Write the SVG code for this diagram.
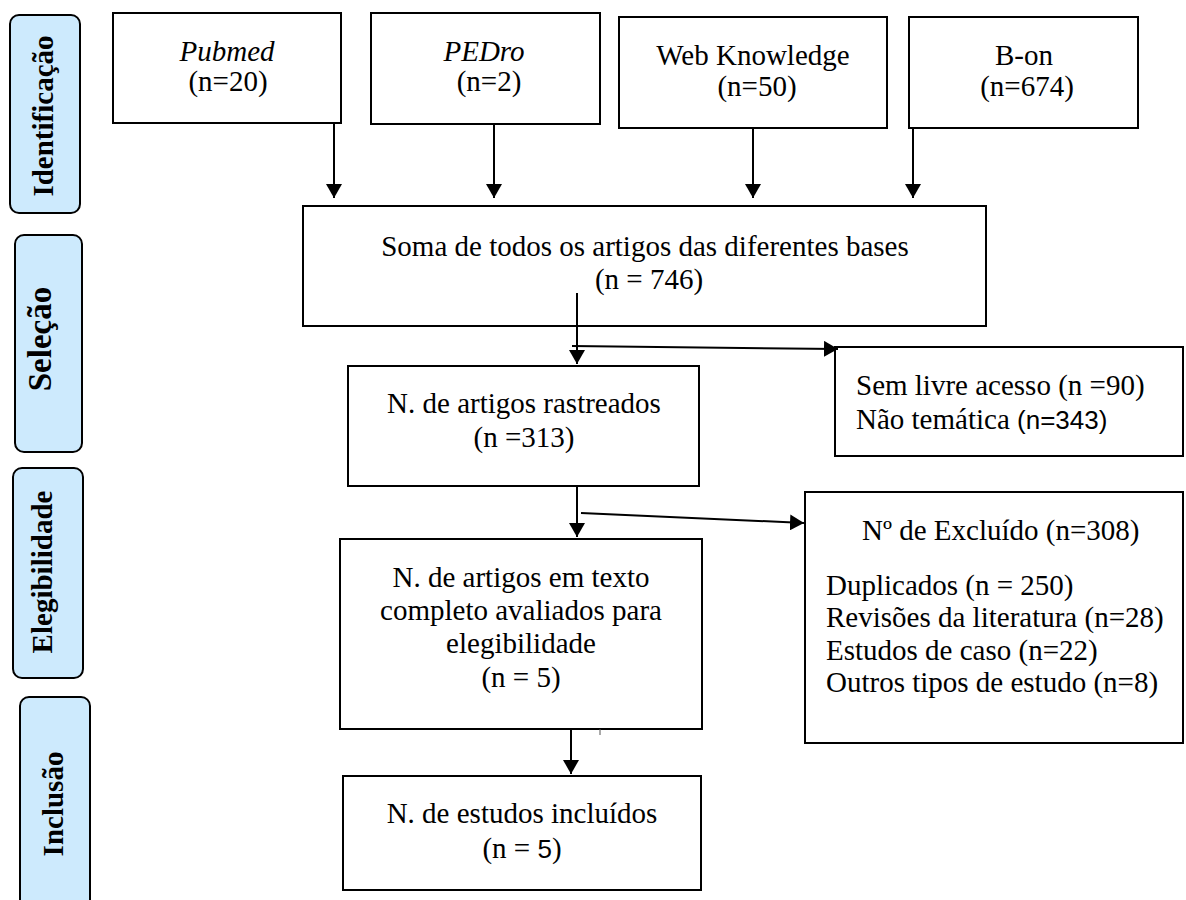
<svg xmlns="http://www.w3.org/2000/svg" width="1186" height="900" viewBox="0 0 1186 900">
<style>
  .box{fill:#ffffff;stroke:#000;stroke-width:2}
  .side{fill:#cdeafd;stroke:#000;stroke-width:2}
  .t{font-family:"Liberation Serif","Times New Roman",serif;font-size:29px;fill:#000}
  .c{text-anchor:middle}
  .i{font-style:italic}
  .sb{font-family:"Liberation Serif","Times New Roman",serif;font-size:29px;font-weight:bold;text-anchor:middle;fill:#000}
  .sans{font-family:"Liberation Sans",Arial,sans-serif;font-size:26px}
  .ln{stroke:#000;stroke-width:2;fill:none}
</style>
<defs>
  <marker id="ah" markerWidth="8" markerHeight="8" refX="7" refY="4" orient="auto" markerUnits="strokeWidth">
    <path d="M0,0 L7,4 L0,8 Z" fill="#000"/>
  </marker>
</defs>
<rect width="1186" height="900" fill="#ffffff"/>

<g id="lbl-identificacao">
  <rect class="side" x="10" y="15" width="70" height="198" rx="9"/>
  <text class="sb" transform="translate(53,116) rotate(-90)">Identificação</text>
</g>
<g id="lbl-selecao">
  <rect class="side" x="15" y="235" width="67" height="217" rx="9"/>
  <text class="sb" style="font-size:33px" transform="translate(51,339) rotate(-90)">Seleção</text>
</g>
<g id="lbl-elegibilidade">
  <rect class="side" x="13" y="468" width="70" height="210" rx="9"/>
  <text class="sb" transform="translate(52,572) rotate(-90)">Elegibilidade</text>
</g>
<g id="lbl-inclusao">
  <rect class="side" x="20" y="697" width="70" height="215" rx="9"/>
  <text class="sb" transform="translate(63,804) rotate(-90)">Inclusão</text>
</g>

<g id="pubmed">
  <rect class="box" x="113" y="13" width="228" height="110"/>
  <text class="t c i" x="227" y="61">Pubmed</text>
  <text class="t c" x="228" y="91">(n=20)</text>
</g>
<g id="pedro">
  <rect class="box" x="371" y="13" width="229" height="111"/>
  <text class="t c i" x="484" y="61">PEDro</text>
  <text class="t c" x="489" y="91">(n=2)</text>
</g>
<g id="webknowledge">
  <rect class="box" x="619" y="17" width="268" height="111"/>
  <text class="t c" x="753" y="65">Web Knowledge</text>
  <text class="t c" x="757" y="96">(n=50)</text>
</g>
<g id="bon">
  <rect class="box" x="909" y="17" width="229" height="111"/>
  <text class="t c" x="1024" y="65">B-on</text>
  <text class="t c" x="1027" y="96">(n=674)</text>
</g>

<g id="soma">
  <rect class="box" x="303" y="206" width="683" height="120"/>
  <text class="t c" x="645" y="256">Soma de todos os artigos das diferentes bases</text>
  <text class="t c" x="649" y="289">(n = 746)</text>
</g>
<g id="rastreados">
  <rect class="box" x="348" y="366" width="351" height="120"/>
  <text class="t c" x="524" y="413">N. de artigos rastreados</text>
  <text class="t c" x="524" y="447">(n =313)</text>
</g>
<g id="semlivre">
  <rect class="box" x="835" y="347" width="348" height="109"/>
  <text class="t" x="856" y="395">Sem livre acesso (n =90)</text>
  <text class="t" x="856" y="429">Não temática <tspan class="sans">(n=343)</tspan></text>
</g>
<g id="texto">
  <rect class="box" x="340" y="539" width="362" height="190"/>
  <text class="t c" x="521" y="587">N. de artigos em texto</text>
  <text class="t c" x="521" y="620">completo avaliados para</text>
  <text class="t c" x="521" y="653">elegibilidade</text>
  <text class="t c" x="521" y="687">(n = 5)</text>
</g>
<g id="excluidos">
  <rect class="box" x="805" y="492" width="378" height="251"/>
  <text class="t" x="862" y="540">Nº de Excluído (n=308)</text>
  <text class="t" x="826" y="595">Duplicados (n = 250)</text>
  <text class="t" x="826" y="627">Revisões da literatura (n=28)</text>
  <text class="t" x="826" y="660">Estudos de caso (n=22)</text>
  <text class="t" x="826" y="692">Outros tipos de estudo (n=8)</text>
</g>
<g id="incluidos">
  <rect class="box" x="343" y="776" width="358" height="114"/>
  <text class="t c" x="522" y="823">N. de estudos incluídos</text>
  <text class="t c" x="522" y="858">(n = <tspan class="sans">5</tspan>)</text>
</g>

<g id="connectors">
  <line class="ln" x1="334" y1="123" x2="334" y2="198" marker-end="url(#ah)"/>
  <line class="ln" x1="494" y1="124" x2="494" y2="198" marker-end="url(#ah)"/>
  <line class="ln" x1="753" y1="128" x2="753" y2="198" marker-end="url(#ah)"/>
  <line class="ln" x1="913" y1="128" x2="913" y2="198" marker-end="url(#ah)"/>
  <line class="ln" x1="577" y1="293" x2="577" y2="364" marker-end="url(#ah)"/>
  <line class="ln" x1="572" y1="346" x2="838" y2="349" marker-end="url(#ah)"/>
  <line class="ln" x1="577" y1="486" x2="577" y2="537" marker-end="url(#ah)"/>
  <line class="ln" x1="581" y1="513" x2="804" y2="523" marker-end="url(#ah)"/>
  <line class="ln" x1="571" y1="729" x2="571" y2="774" marker-end="url(#ah)"/>
  <line x1="600" y1="729" x2="600" y2="735" stroke="#555" stroke-width="1"/>
</g>
</svg>
